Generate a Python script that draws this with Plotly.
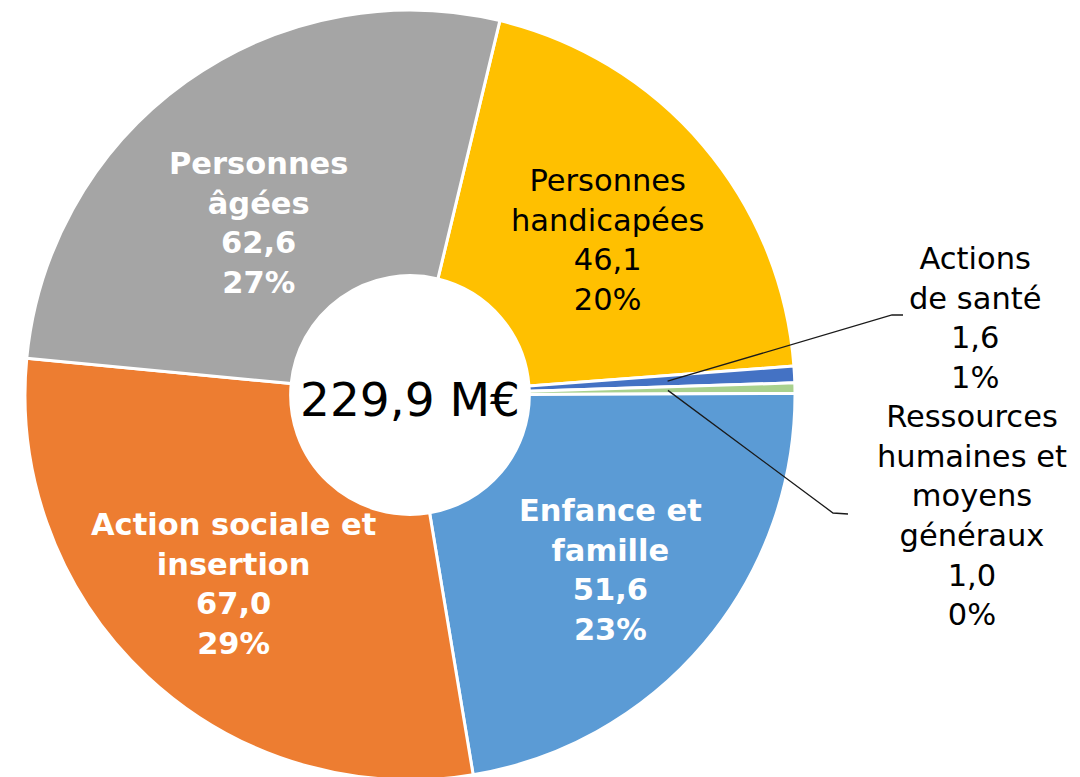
import math
import plotly.graph_objects as go

# ---------------- data ----------------
categories = ["Personnes handicapées", "Actions de santé",
              "Ressources humaines et moyens généraux", "Enfance et famille",
              "Action sociale et insertion", "Personnes âgées"]
display_names = ["Personnes<br>handicapées", "Actions<br>de santé",
                 "Ressources<br>humaines et<br>moyens<br>généraux", "Enfance et<br>famille",
                 "Action sociale et<br>insertion", "Personnes<br>âgées"]
values = [46.1, 1.6, 1.0, 51.6, 67.0, 62.6]
pct_labels = ["20%", "1%", "0%", "23%", "29%", "27%"]
total_label = "229,9 M€"

# ---------------- style ----------------
colors = ["#FFC000", "#4472C4", "#A9D18E", "#5B9BD5", "#ED7D31", "#A5A5A5"]
W, H = 1080, 777
OFF = 8                            # default body margin of the html page
CX, CY, R = 410, 395, 385          # pie centre / radius in screen px
ROT = 13.5
HOLE = 0.31
FONT = "DejaVu Sans"
FS = 30.5
# label centre (screen px), bold, colour
label_style = {0: ((607, 240), False, "#000000"),
               1: ((975, 318), False, "#000000"),
               2: ((972, 516), False, "#000000"),
               3: ((610, 570), True, "#FFFFFF"),
               4: ((233, 584), True, "#FFFFFF"),
               5: ((258, 223), True, "#FFFFFF")}
leaders = {1: [(892, 315), (903, 315)], 2: [(833, 513), (848, 514)]}
LEADER_R = 0.67


def px2paper(x, y):
    return (x - OFF) / W, 1 - (y - OFF) / H


def fmt(v):
    return f"{v:.1f}".replace(".", ",")


x0, y1 = px2paper(CX - R, CY - R)
x1, y0 = px2paper(CX + R, CY + R)
fig = go.Figure(go.Pie(
    labels=categories, values=values, sort=False, direction="clockwise",
    rotation=ROT, hole=HOLE, textinfo="none", showlegend=False,
    marker=dict(colors=colors, line=dict(color="white", width=3)),
    domain=dict(x=[x0, x1], y=[max(0, y0), min(1, y1)]),
))

total = sum(values)
annotations = []
shapes = []
cum = 0.0
for i, v in enumerate(values):
    mid = math.radians(ROT + 360 * (cum + v / 2) / total)
    cum += v
    body = f"{display_names[i]}<br>{fmt(v)}<br>{pct_labels[i]}"
    (lx, ly), bold, col = label_style[i]
    txt = f"<b>{body}</b>" if bold else body
    px, py = px2paper(lx, ly)
    annotations.append(dict(x=px, y=py, xref="paper", yref="paper", text=txt,
                            showarrow=False, xanchor="center", yanchor="middle",
                            font=dict(family=FONT, size=FS, color=col)))
    if i in leaders:
        sx = CX + LEADER_R * R * math.sin(mid)
        sy = CY - LEADER_R * R * math.cos(mid)
        pts = [(sx, sy)] + leaders[i]
        path = "M " + " L ".join(f"{px2paper(a, b)[0]},{px2paper(a, b)[1]}" for a, b in pts)
        shapes.append(dict(type="path", path=path, xref="paper", yref="paper",
                           line=dict(color="#1a1a1a", width=1.3)))

cx, cy = px2paper(CX, CY + 5)
annotations.append(dict(x=cx, y=cy, xref="paper", yref="paper", text=total_label,
                        showarrow=False, xanchor="center", yanchor="middle",
                        font=dict(family=FONT, size=47, color="#000000")))

fig.update_layout(width=W, height=H, margin=dict(l=0, r=0, t=0, b=0),
                  paper_bgcolor="white", plot_bgcolor="white",
                  annotations=annotations, shapes=shapes)
fig.write_html("out.html")
